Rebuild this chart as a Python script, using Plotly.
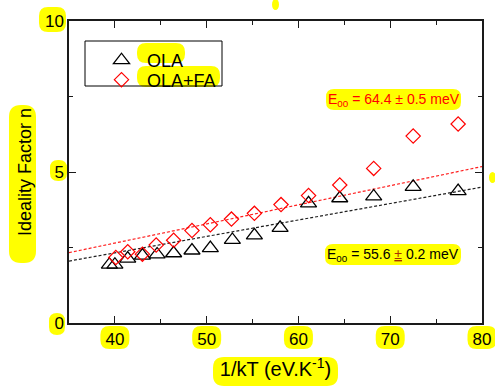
import plotly.graph_objects as go

# ---- data ----
x_ola = [39.4, 40.0, 41.4, 43.0, 44.6, 46.4, 48.4, 50.4, 52.8, 55.2, 58.0, 61.1, 64.5, 68.2, 72.5, 77.4]
y_ola = [1.93, 1.93, 2.13, 2.23, 2.27, 2.31, 2.40, 2.48, 2.75, 2.90, 3.15, 3.96, 4.13, 4.19, 4.51, 4.37]
x_olafa = [40.1, 41.4, 43.0, 44.5, 46.4, 48.4, 50.4, 52.7, 55.2, 58.1, 61.1, 64.5, 68.2, 72.5, 77.4]
y_olafa = [2.17, 2.36, 2.28, 2.58, 2.74, 3.06, 3.25, 3.44, 3.63, 3.92, 4.22, 4.57, 5.12, 6.19, 6.59]
fit_x = [35, 80]
fit_ola = [2.05, 4.50]
fit_olafa = [2.33, 5.18]
x_ticks = [40, 50, 60, 70, 80]
y_ticks = [0, 5, 10]
labels = ["OLA", "OLA+FA"]

FONT = "Liberation Sans, Arial, sans-serif"
W, H = 495, 392
L, R, T, B = 69, 13, 21, 69
PW, PH = W - L - R, H - T - B

def px(x):
    return (x - L) / PW

def py(y):
    return (H - B - y) / PH

def pill(x0, y0, x1, y1, r=None):
    h = y1 - y0
    w = x1 - x0
    if r is None:
        r = min(h / 2, w / 2)
    rx = min(r, w / 2)
    ry = min(r, h / 2)
    pts = [
        ("M", (x0 + rx, y0)), ("L", (x1 - rx, y0)),
        ("Q", (x1, y0), (x1, y0 + ry)), ("L", (x1, y1 - ry)),
        ("Q", (x1, y1), (x1 - rx, y1)), ("L", (x0 + rx, y1)),
        ("Q", (x0, y1), (x0, y1 - ry)), ("L", (x0, y0 + ry)),
        ("Q", (x0, y0), (x0 + rx, y0)),
    ]
    s = ""
    for p in pts:
        cmd = p[0]
        coords = " ".join(f"{px(a):.5f},{py(b):.5f}" for a, b in p[1:])
        s += f"{cmd}{coords} "
    s += "Z"
    return dict(type="path", path=s, xref="paper", yref="paper",
                fillcolor="#ffff00", line=dict(width=0), layer="below")

fig = go.Figure()

fig.add_trace(go.Scatter(x=fit_x, y=fit_olafa, mode="lines", showlegend=False,
                         line=dict(color="#ff2020", width=1.2, dash="3px,2px")))
fig.add_trace(go.Scatter(x=fit_x, y=fit_ola, mode="lines", showlegend=False,
                         line=dict(color="#202020", width=1.2, dash="3px,2px")))
fig.add_trace(go.Scatter(x=x_ola, y=y_ola, mode="markers", name=labels[0], legend="legend",
                         marker=dict(symbol="triangle-up-open", size=14, color="black",
                                     line=dict(width=1.3, color="black"))))
fig.add_trace(go.Scatter(x=x_olafa, y=y_olafa, mode="markers", name=labels[1], legend="legend2",
                         marker=dict(symbol="diamond-open", size=11, color="#ff0000",
                                     line=dict(width=1.2, color="#ff0000"))))

shapes = []
# tick label highlights
for v in x_ticks:
    cx = L + (v - 35) / 45 * PW
    shapes.append(pill(cx - 14.5, 326, cx + 14.5, 349, r=9))
shapes.append(pill(39, 7, 66, 32, r=9))
shapes.append(pill(50, 160, 67, 181, r=8))
shapes.append(pill(49, 313, 65, 335, r=8))
# axis titles
shapes.append(pill(213, 357, 338, 386, r=11))
shapes.append(pill(9, 105, 36, 263, r=12))
# legend text
shapes.append(pill(137, 43, 185, 63, r=9))
shapes.append(pill(137, 66, 220, 87, r=9))
# annotation highlights
shapes.append(pill(326, 89, 461, 110, r=8))
shapes.append(pill(325, 244, 461, 265, r=8))
# stray blobs
for (a, b, c, d) in [(272, -1, 279, 10), (489, 172, 496, 183)]:
    shapes.append(dict(type="circle", xref="paper", yref="paper",
                       x0=px(a), x1=px(c), y0=py(d), y1=py(b),
                       fillcolor="#ffff00", line=dict(width=0), layer="below"))
# legend box
shapes.append(dict(type="rect", xref="paper", yref="paper",
                   x0=px(85), x1=px(222), y0=py(86), y1=py(41),
                   line=dict(color="black", width=1), fillcolor="rgba(0,0,0,0)", layer="below"))

axis_common = dict(showgrid=False, zeroline=False, showline=True, linecolor="#1a1a1a",
                   linewidth=1.5, mirror="allticks", ticks="inside", ticklen=7,
                   tickwidth=1, tickcolor="#1a1a1a", automargin=False,
                   tickfont=dict(family=FONT, size=17, color="black"))

leg_common = dict(xanchor="left", yanchor="top", bgcolor="rgba(0,0,0,0)", borderwidth=0,
                  itemwidth=41, font=dict(family=FONT, size=18, color="black"))

fig.update_layout(
    template="none",
    width=W, height=H,
    margin=dict(l=L, r=R, t=T, b=B),
    paper_bgcolor="white", plot_bgcolor="rgba(0,0,0,0)",
    font=dict(family=FONT, color="black"),
    xaxis=dict(range=[35, 80], tickvals=x_ticks,
               minor=dict(dtick=5, tick0=35, ticks="inside", ticklen=4, tickcolor="#1a1a1a"),
               title=dict(text="1/kT (eV.K<sup>-1</sup>)", font=dict(family=FONT, size=20), standoff=14),
               **axis_common),
    yaxis=dict(range=[0, 10], tickvals=y_ticks,
               minor=dict(dtick=2.5, tick0=0, ticks="inside", ticklen=4, tickcolor="#1a1a1a"),
               title=dict(text="Ideality Factor n", font=dict(family=FONT, size=18), standoff=9),
               **axis_common),
    legend=dict(x=px(96), y=py(42), **leg_common),
    legend2=dict(x=px(96), y=py(61.5), **leg_common),
    shapes=shapes,
    annotations=[
        dict(text="E<sub>00</sub> = 64.4 ± 0.5 meV", xref="paper", yref="paper",
             x=px(393.5), y=py(99.5), xanchor="center", yanchor="middle", showarrow=False,
             font=dict(family=FONT, size=14, color="#ff0000")),
        dict(text="E<sub>00</sub> = 55.6 <span style='color:#a83200'><u>±</u></span> 0.2 meV",
             xref="paper", yref="paper",
             x=px(393), y=py(254.5), xanchor="center", yanchor="middle", showarrow=False,
             font=dict(family=FONT, size=14, color="black")),
    ],
)

fig.write_html("out.html")
